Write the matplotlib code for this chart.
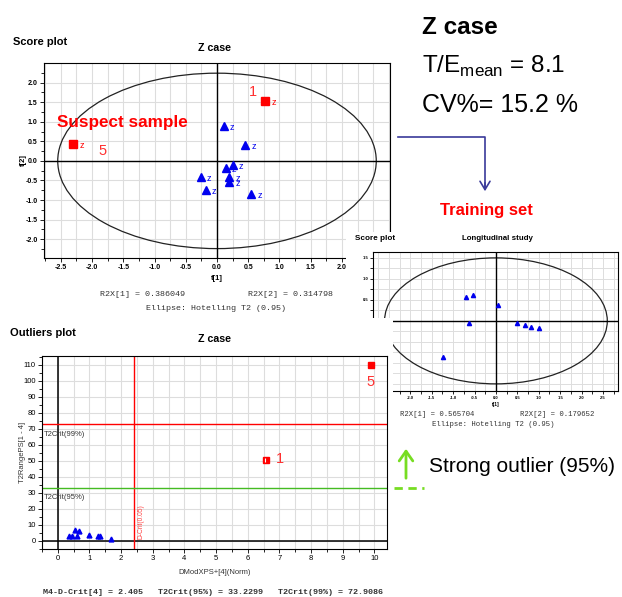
import matplotlib
matplotlib.use("Agg")
import matplotlib.pyplot as plt
import numpy as np
from matplotlib.patches import Ellipse, Rectangle, FancyArrowPatch, ArrowStyle
from matplotlib.lines import Line2D

plt.rcParams['font.family'] = ['Liberation Sans', 'DejaVu Sans']
plt.rcParams['axes.unicode_minus'] = False
plt.rcParams['mathtext.fontset'] = 'custom'
plt.rcParams['mathtext.rm'] = 'Liberation Sans'

# Score plot, Z case (t[1], t[2])
z_t1 = [0.11, 0.45, 0.25, 0.14, -0.26, 0.20, 0.20, -0.18, 0.55]
z_t2 = [0.88, 0.41, -0.10, -0.17, -0.42, -0.40, -0.55, -0.74, -0.85]
suspect_t1 = [0.77, -2.30]
suspect_t2 = [1.52, 0.43]
suspect_ids = ['1', '5']
z_ellipse = (2.55, 2.24)
r2x_z = [0.386049, 0.314798]

# Score plot, longitudinal study (training set)
long_t1 = [-0.70, -0.53, 0.05, -0.63, 0.50, 0.68, 0.81, 1.01, -1.23]
long_t2 = [0.56, 0.61, 0.37, -0.06, -0.06, -0.10, -0.15, -0.16, -0.85]
long_ellipse = (2.6, 1.5)
r2x_long = [0.565704, 0.179652]

# Outliers plot
dmod = [0.34, 0.44, 0.55, 0.60, 0.68, 1.00, 1.28, 1.33, 1.68]
t2range = [3.3, 2.9, 7.0, 3.3, 6.0, 3.5, 3.3, 2.9, 1.2]
dmod_out = [6.58, 9.88]
t2_out = [50.7, 110.0]
out_ids = ['1', '5']
d_crit = 2.405
t2_crit95 = 33.2299
t2_crit99 = 72.9086

W, H = 622, 597
fig = plt.figure(figsize=(W / 100, H / 100), dpi=100)


def box(x0, y0, x1, y1):
    return [x0 / W, 1 - y1 / H, (x1 - x0) / W, (y1 - y0) / H]


def fx(x):
    return x / W


def fy(y):
    return 1 - y / H


RED = '#ff0000'
BLUE = '#0000ee'
GRID = '#dddddd'
MONO = 'Liberation Mono'


def style_axes(ax, size):
    ax.set_facecolor('white')
    for s in ax.spines.values():
        s.set_linewidth(0.8)
    ax.tick_params(which='both', direction='out', length=3, width=0.6,
                   labelsize=size, pad=1.5, colors='black')
    ax.tick_params(which='minor', length=2)


# ---------------- top-left score plot ----------------
ax1 = fig.add_axes(box(44, 63, 390, 258), zorder=1)
style_axes(ax1, 5)
ax1.set_xlim(-2.77, 2.77)
ax1.set_ylim(-2.48, 2.5)
xt = np.arange(-2.5, 2.51, 0.5)
yt = np.arange(-2.0, 2.01, 0.5)
ax1.set_xticks(xt, labels=['%.1f' % v for v in xt], fontweight='bold')
ax1.set_yticks(yt, labels=['%.1f' % v for v in yt], fontweight='bold')
ax1.set_xticks(np.arange(-2.75, 2.76, 0.25), minor=True)
ax1.set_yticks(np.arange(-2.25, 2.5, 0.25), minor=True)
ax1.grid(which='both', axis='x', color=GRID, lw=0.8)
ax1.grid(which='major', axis='y', color=GRID, lw=0.8)
ax1.set_axisbelow(True)
ax1.axhline(0, color='black', lw=1)
ax1.axvline(0, color='black', lw=1)
ax1.add_patch(Ellipse((0, 0), 2 * z_ellipse[0], 2 * z_ellipse[1],
                      fill=False, ec='#222222', lw=0.9))
ax1.plot(z_t1, z_t2, '^', color=BLUE, ms=5.5, mec=BLUE)
for a, b in zip(z_t1, z_t2):
    ax1.text(a + 0.1, b - 0.04, 'z', color=BLUE, fontsize=6.5, va='center')
ax1.plot(suspect_t1, suspect_t2, 's', color=RED, ms=6)
for a, b in zip(suspect_t1, suspect_t2):
    ax1.text(a + 0.1, b - 0.04, 'z', color=RED, fontsize=6.5, va='center')
id_offsets = [(-0.19, 0.24), (0.47, -0.19)]
for a, b, s, (dx, dy) in zip(suspect_t1, suspect_t2, suspect_ids, id_offsets):
    ax1.text(a + dx, b + dy, s, color='#ff3030', fontsize=10.5,
             ha='center', va='center')
ax1.text(-2.56, 0.97, 'Suspect sample', color=RED, fontsize=12.3,
         fontweight='bold', va='center')
ax1.set_xlabel('t[1]', fontsize=5.5, fontweight='bold', labelpad=3)
ax1.set_ylabel('t[2]', fontsize=5.5, fontweight='bold', labelpad=-1)

fig.text(fx(13), fy(42), 'Score plot', fontsize=8, fontweight='bold', va='center')
fig.text(fx(215), fy(48), 'Z case', fontsize=7.7, fontweight='bold',
         ha='center', va='center')
fig.text(fx(143), fy(295), 'R2X[1] = %.6f' % r2x_z[0], family=MONO,
         fontsize=6, color='#333333', ha='center', va='center')
fig.text(fx(290), fy(295), 'R2X[2] = %.6f' % r2x_z[1], family=MONO,
         fontsize=6, color='#333333', ha='center', va='center')
fig.text(fx(216), fy(308), 'Ellipse: Hotelling T2 (0.95)', family=MONO,
         fontsize=6, color='#333333', ha='center', va='center')

# ---------------- longitudinal study inset ----------------
fig.add_artist(Rectangle((fx(346), fy(432)), (622 - 346) / W, (432 - 232) / H,
                         transform=fig.transFigure, fc='white', ec='none',
                         zorder=2))
ax2 = fig.add_axes(box(373, 252, 618, 391), zorder=2.5)
style_axes(ax2, 3)
ax2.tick_params(which='both', length=2)
ax2.set_xlim(-2.87, 2.85)
ax2.set_ylim(-1.67, 1.64)
xt2 = np.arange(-2.5, 2.51, 0.5)
yt2 = np.arange(-1.5, 1.51, 0.5)
ax2.set_xticks(xt2, labels=['%.1f' % v for v in xt2], fontweight='bold')
ax2.set_yticks(yt2, labels=['%.1f' % v for v in yt2], fontweight='bold')
ax2.set_xticks(np.arange(-2.75, 2.76, 0.25), minor=True)
ax2.set_yticks(np.arange(-1.5, 1.6, 0.25), minor=True)
ax2.grid(which='both', color=GRID, lw=0.7)
ax2.set_axisbelow(True)
ax2.axhline(0, color='black', lw=1)
ax2.axvline(0, color='black', lw=1)
ax2.add_patch(Ellipse((0, 0), 2 * long_ellipse[0], 2 * long_ellipse[1],
                      fill=False, ec='#222222', lw=0.9))
ax2.plot(long_t1, long_t2, '^', color=BLUE, ms=3)
ax2.set_xlabel('t[1]', fontsize=3.5, fontweight='bold', labelpad=1.5)

fig.text(fx(355), fy(238), 'Score plot', fontsize=5.9, fontweight='bold',
         va='center', zorder=2.6)
fig.text(fx(497), fy(239), 'Longitudinal study', fontsize=5.7,
         fontweight='bold', ha='center', va='center', zorder=2.6)
fig.text(fx(437), fy(415), 'R2X[1] = %.6f' % r2x_long[0], family=MONO,
         fontsize=5.2, color='#333333', ha='center', va='center', zorder=2.6)
fig.text(fx(557), fy(415), 'R2X[2] = %.6f' % r2x_long[1], family=MONO,
         fontsize=5.2, color='#333333', ha='center', va='center', zorder=2.6)
fig.text(fx(493), fy(424), 'Ellipse: Hotelling T2 (0.95)', family=MONO,
         fontsize=5.2, color='#333333', ha='center', va='center', zorder=2.6)

# ---------------- outliers plot ----------------
fig.add_artist(Rectangle((0, 0), 393 / W, (597 - 318) / H,
                         transform=fig.transFigure, fc='white', ec='none',
                         zorder=3))
ax3 = fig.add_axes(box(42, 356, 387, 549), zorder=3.5)
style_axes(ax3, 5.5)
ax3.set_xlim(-0.5, 10.4)
ax3.set_ylim(-4.8, 115.6)
ax3.set_xticks(np.arange(0, 11, 1))
ax3.set_yticks(np.arange(0, 111, 10))
ax3.set_xticks(np.arange(-0.5, 10.5, 0.5), minor=True)
ax3.set_yticks(np.arange(-5, 116, 5), minor=True)
ax3.grid(which='both', axis='x', color=GRID, lw=0.8)
ax3.grid(which='major', axis='y', color=GRID, lw=0.8)
ax3.set_axisbelow(True)
ax3.axhline(0, color='black', lw=1.1)
ax3.axvline(0, color='black', lw=1.1)
ax3.axvline(d_crit, color=RED, lw=1)
ax3.axhline(t2_crit99, color=RED, lw=1)
ax3.axhline(t2_crit95, color='#44bb22', lw=1)
ax3.text(-0.45, t2_crit99 - 4, 'T2Crit(99%)', fontsize=5.5, color='#333333',
         va='top')
ax3.text(-0.45, t2_crit95 - 4, 'T2Crit(95%)', fontsize=5.5, color='#333333',
         va='top')
ax3.text(d_crit + 0.1, 1, 'D-Crit(0.05)', fontsize=4.8, color='#ff4040',
         rotation=90, va='bottom', ha='left')
ax3.plot(dmod, t2range, '^', color=BLUE, ms=3.5)
ax3.plot(dmod_out, t2_out, 's', color=RED, ms=5)
ax3.plot(dmod_out[0] - 0.04, t2_out[0], '|', color='white', ms=3, mew=0.8)
out_offsets = [(0.45, 0.3), (0.0, -10.4)]
for a, b, s, (dx, dy) in zip(dmod_out, t2_out, out_ids, out_offsets):
    ax3.text(a + dx, b + dy, s, color='#ff3030', fontsize=10.5,
             ha='center', va='center')
ax3.set_xlabel('DModXPS+[4](Norm)', fontsize=5.5, color='#333333', labelpad=5)
ax3.set_ylabel('T2RangePS[1 - 4]', fontsize=5.5, color='#333333', labelpad=-2)

fig.text(fx(10), fy(333), 'Outliers plot', fontsize=8, fontweight='bold',
         va='center', zorder=3.6)
fig.text(fx(215), fy(339), 'Z case', fontsize=7.7, fontweight='bold',
         ha='center', va='center', zorder=3.6)
footer = 'M4-D-Crit[4] = %.3f   T2Crit(95%%) = %.4f   T2Crit(99%%) = %.4f' % (
    d_crit, t2_crit95, t2_crit99)
fig.text(fx(43), fy(592), footer, family=MONO, fontsize=6, fontweight='bold',
         color='#333333', va='center', zorder=3.6)

# ---------------- slide annotations ----------------
fig.text(fx(422), fy(34), 'Z case', fontsize=17.5, fontweight='bold',
         va='baseline')
fig.text(fx(422), fy(73), r'T/E$_{\mathrm{mean}}$ = 8.1', fontsize=17.5,
         va='baseline')
fig.text(fx(422), fy(112), 'CV%= 15.2 %', fontsize=18, va='baseline')

arrow_blue = '#3a3a9a'
fig.add_artist(Line2D([fx(398), fx(485), fx(485)], [fy(137), fy(137), fy(188)],
                      transform=fig.transFigure, color=arrow_blue, lw=1.2))
fig.add_artist(FancyArrowPatch((fx(485), fy(180)), (fx(485), fy(194)),
                               transform=fig.transFigure,
                               arrowstyle=ArrowStyle('->', head_length=0.5,
                                                     head_width=0.3),
                               mutation_scale=12, color=arrow_blue, lw=1.2))
fig.text(fx(486), fy(211), 'Training set', fontsize=12, fontweight='bold',
         color=RED, ha='center', va='center')

green = '#77dd22'
fig.add_artist(FancyArrowPatch((fx(406), fy(481)), (fx(406), fy(446)),
                               transform=fig.transFigure,
                               arrowstyle=ArrowStyle('->', head_length=0.5,
                                                     head_width=0.35),
                               mutation_scale=14, color=green, lw=2))
fig.add_artist(Line2D([fx(394), fx(424)], [fy(488), fy(488)],
                      transform=fig.transFigure, color=green, lw=2,
                      ls=(0, (3, 2))))
fig.text(fx(429), fy(467), 'Strong outlier (95%)', fontsize=15,
         va='center')

fig.savefig('out.png', dpi=100)
